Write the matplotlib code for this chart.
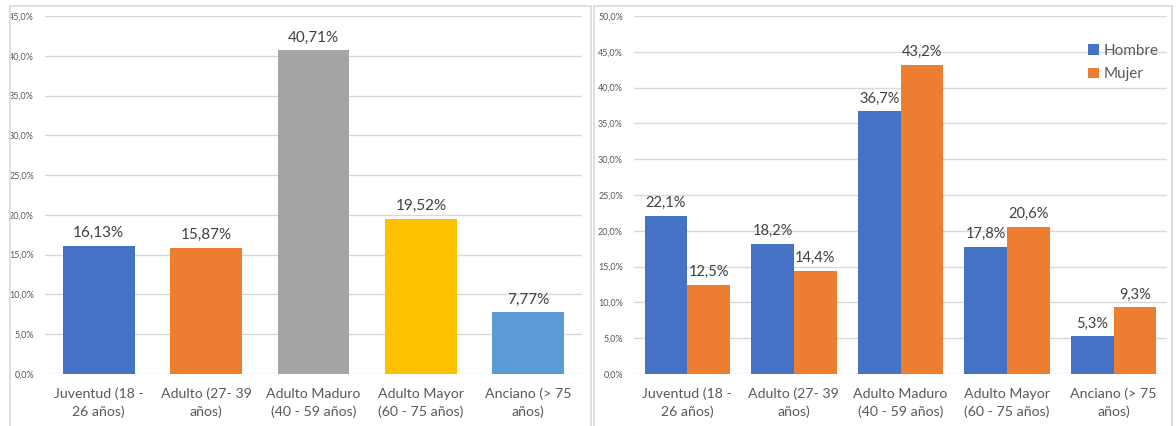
import matplotlib
matplotlib.use("Agg")
import matplotlib.pyplot as plt
from matplotlib.patches import Rectangle
from matplotlib.ticker import FuncFormatter
import numpy as np

plt.rcParams['font.family'] = ['Lato', 'DejaVu Sans']

categorias = ['Juventud (18 -\n26 años)', 'Adulto (27- 39\naños)', 'Adulto Maduro\n(40 - 59 años)',
              'Adulto Mayor\n(60 - 75 años)', 'Anciano (> 75\naños)']
total = [16.13, 15.87, 40.71, 19.52, 7.77]
colores_total = ['#4472C4', '#ED7D31', '#A5A5A5', '#FFC000', '#5B9BD5']
hombre = [22.1, 18.2, 36.7, 17.8, 5.3]
mujer = [12.5, 14.4, 43.2, 20.6, 9.3]

W, H = 1176, 426
fig = plt.figure(figsize=(W / 100, H / 100), dpi=100)

# marcos de los paneles
for x0, x1 in [(10, 591), (594, 1172)]:
    fig.patches.append(Rectangle((x0 / W, -0.1), (x1 - x0) / W, (H - 6) / H + 0.1,
                                 transform=fig.transFigure, fill=False,
                                 edgecolor='#D9D9D9', lw=1.2))

def fmt_pct(v, pos):
    return ('%.1f%%' % v).replace('.', ',')

def estilo(ax, ymax):
    ax.set_ylim(0, ymax)
    ax.set_xlim(-0.5, 4.5)
    ax.set_yticks(np.arange(0, ymax + 0.1, 5))
    ax.yaxis.set_major_formatter(FuncFormatter(fmt_pct))
    ax.grid(axis='y', color='#D9D9D9', lw=1)
    ax.set_axisbelow(True)
    for s in ax.spines.values():
        s.set_visible(False)
    ax.tick_params(length=0)
    ax.tick_params(axis='y', labelsize=6.5, labelcolor='#595959', pad=8)
    ax.tick_params(axis='x', labelsize=10.2, labelcolor='#595959', pad=10)
    ax.set_xticks(range(5))
    ax.set_xticklabels(categorias, linespacing=1.5)

# panel izquierdo
ax1 = fig.add_axes([45 / W, 52 / H, 537 / W, 358 / H])
x = np.arange(5)
barras = ax1.bar(x, total, width=0.67, color=colores_total)
for b, v in zip(barras, total):
    ax1.annotate(('%.2f%%' % v).replace('.', ','), (b.get_x() + b.get_width() / 2, v),
                 xytext=(0, 4), textcoords='offset points', ha='center', va='bottom',
                 fontsize=11, color='#404040')
estilo(ax1, 45)

# panel derecho
ax2 = fig.add_axes([634 / W, 52 / H, 533 / W, 358 / H])
w = 0.4
b1 = ax2.bar(x - w / 2, hombre, width=w, color='#4472C4', label='Hombre')
b2 = ax2.bar(x + w / 2, mujer, width=w, color='#ED7D31', label='Mujer')
for bs, vals in [(b1, hombre), (b2, mujer)]:
    for b, v in zip(bs, vals):
        ax2.annotate(('%.1f%%' % v).replace('.', ','), (b.get_x() + b.get_width() / 2, v),
                     xytext=(0, 4), textcoords='offset points', ha='center', va='bottom',
                     fontsize=10.5, color='#404040')
estilo(ax2, 50)
ax2.legend(loc='upper right', bbox_to_anchor=(1.01, 0.96), frameon=False, fontsize=11,
           handlelength=0.7, handleheight=0.7, handletextpad=0.3, labelspacing=0.6,
           labelcolor='#595959')

fig.savefig('out.png', dpi=100)
